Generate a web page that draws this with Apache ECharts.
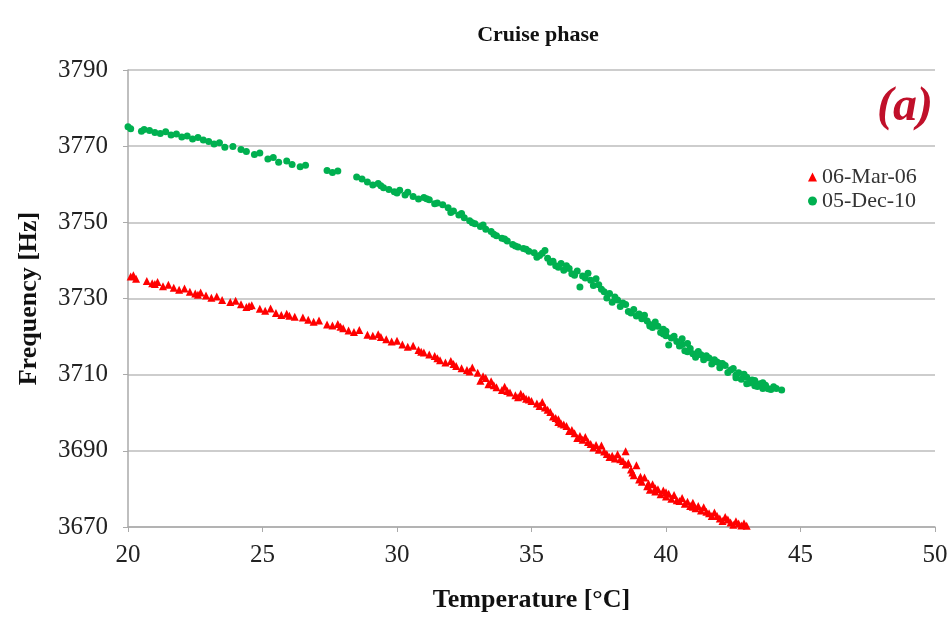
<!DOCTYPE html>
<html>
<head>
<meta charset="utf-8">
<script src="https://cdn.jsdelivr.net/npm/echarts@6/dist/echarts.min.js"></script>
<style>html,body{margin:0;padding:0;background:#fff}#c{width:951px;height:621px}</style>
</head>
<body>
<div id="c"></div>
<script>
const titleText = 'Cruise phase';
const xName = 'Temperature [°C]';
const yName = 'Frequency [Hz]';
const seriesNames = ['06-Mar-06', '05-Dec-10'];
const panelLabel = '(a)';

// [temperature °C, frequency Hz]
const mar06 = [[20.1,3735.8],[20.3,3735.2],[20.7,3734.6],[20.9,3734.0],[21.1,3734.3],[21.3,3733.2],[21.5,3733.6],[21.7,3732.8],[21.9,3732.3],[22.1,3732.6],[22.3,3731.8],[22.5,3731.3],[22.7,3731.6],[22.9,3730.8],[23.1,3730.2],[23.3,3730.5],[23.5,3729.6],[23.8,3729.1],[24.0,3729.4],[24.2,3728.5],[24.4,3727.8],[24.6,3728.2],[24.9,3727.3],[25.1,3726.8],[25.3,3727.4],[25.5,3726.2],[25.7,3725.7],[25.9,3726.0],[26.2,3725.2],[26.5,3725.0],[26.7,3724.4],[26.9,3723.9],[27.1,3724.2],[27.4,3723.2],[27.6,3722.9],[27.8,3723.3],[28.0,3722.2],[28.2,3721.6],[28.4,3721.2],[28.6,3721.7],[28.9,3720.5],[29.1,3720.2],[29.3,3720.6],[29.6,3719.3],[29.8,3718.7],[30.0,3718.9],[30.2,3717.9],[30.4,3717.3],[30.6,3717.6],[30.8,3716.5],[31.0,3715.8],[31.2,3715.3],[31.4,3714.9],[31.6,3713.8],[31.8,3713.2],[32.0,3713.6],[32.2,3712.3],[32.4,3711.7],[32.6,3711.2],[32.8,3711.9],[33.0,3710.5],[33.1,3708.4],[33.2,3709.6],[33.4,3707.5],[33.5,3708.3],[33.7,3706.7],[33.9,3706.0],[34.0,3706.8],[34.2,3705.3],[34.4,3704.6],[34.6,3705.0],[34.8,3703.7],[35.0,3703.1],[35.2,3702.4],[35.4,3702.8],[35.5,3701.4],[35.7,3700.2],[35.8,3699.0],[36.0,3698.3],[36.1,3697.2],[36.3,3696.5],[36.4,3695.2],[36.6,3694.6],[36.7,3693.4],[36.9,3692.9],[37.0,3693.6],[37.2,3691.8],[37.3,3690.9],[37.5,3690.3],[37.6,3691.4],[37.8,3689.2],[37.9,3688.4],[38.1,3688.0],[38.2,3689.1],[38.4,3687.3],[38.5,3689.9],[38.6,3686.8],[38.7,3685.1],[38.8,3683.6],[38.9,3686.2],[39.0,3682.5],[39.1,3681.9],[39.2,3683.0],[39.3,3680.7],[39.4,3679.8],[39.5,3681.2],[39.6,3679.3],[39.8,3678.6],[39.9,3679.6],[40.0,3678.0],[40.2,3677.4],[40.3,3678.4],[40.5,3676.8],[40.6,3677.6],[40.7,3676.1],[40.9,3675.5],[41.0,3676.4],[41.1,3674.9],[41.3,3674.3],[41.4,3675.2],[41.6,3673.6],[41.7,3672.9],[41.8,3673.8],[42.0,3672.2],[42.1,3671.6],[42.2,3672.6],[42.4,3671.2],[42.5,3670.6],[42.6,3671.5],[42.8,3670.4],[42.9,3671.0],[43.0,3670.3],
  [20.2,3736.1],[21.0,3733.8],[22.6,3731.0],[24.5,3728.0],[26.0,3725.5],[27.9,3722.6],[29.4,3719.9],[30.9,3716.0],[31.5,3714.3],[32.1,3712.8],[32.7,3710.8],[33.3,3709.1],[33.6,3707.2],[34.1,3705.7],[34.5,3704.1],[34.9,3703.5],[35.3,3701.8],[35.6,3700.8],[35.9,3698.6],[36.2,3696.9],[36.5,3695.5],[36.8,3693.9],[37.1,3692.3],[37.4,3691.5],[37.7,3689.8],[38.0,3688.7],[38.3,3687.8],[38.75,3684.3],[39.05,3683.2],[39.35,3681.4],[39.7,3679.9],[40.1,3678.7],[40.4,3677.0],[40.8,3676.6],[41.2,3675.5],[41.5,3674.0],[41.9,3672.9],[42.3,3672.0],[42.7,3670.9],[41.0,3675.3],[40.0,3679.1],[39.6,3680.2],[38.5,3686.4],[36.0,3697.6],[34.7,3704.3]];

const dec10 = [[20.0,3775.1],[20.1,3774.6],[20.5,3773.9],[20.6,3774.4],[20.8,3774.1],[21.0,3773.6],[21.2,3773.3],[21.4,3773.8],[21.6,3772.9],[21.8,3773.2],[22.0,3772.4],[22.2,3772.7],[22.4,3771.9],[22.6,3772.3],[22.8,3771.6],[23.0,3771.2],[23.2,3770.6],[23.4,3770.9],[23.6,3769.7],[23.9,3769.9],[24.2,3769.1],[24.4,3768.6],[24.7,3767.8],[24.9,3768.2],[25.2,3766.6],[25.4,3767.0],[25.6,3765.8],[25.9,3766.1],[26.1,3765.2],[26.4,3764.6],[26.6,3765.0],[27.4,3763.6],[27.6,3763.1],[27.8,3763.5],[28.5,3761.9],[28.7,3761.4],[28.9,3760.6],[29.1,3759.8],[29.3,3760.2],[29.5,3759.1],[29.7,3758.6],[29.9,3758.0],[30.1,3758.4],[30.3,3757.2],[30.6,3756.8],[30.8,3756.1],[31.0,3756.5],[31.2,3755.9],[31.5,3755.1],[31.7,3754.6],[31.9,3753.8],[32.1,3753.0],[32.3,3751.9],[32.5,3751.2],[32.7,3750.4],[32.9,3749.6],[33.1,3748.9],[33.3,3748.2],[33.5,3747.6],[33.7,3746.5],[33.9,3745.8],[34.1,3745.1],[34.3,3744.2],[34.5,3743.5],[34.7,3743.1],[34.9,3742.4],[35.1,3742.0],[35.3,3741.3],[35.5,3742.6],[35.6,3740.6],[35.8,3739.8],[35.9,3738.6],[36.1,3739.2],[36.2,3737.4],[36.4,3737.9],[36.5,3736.5],[36.7,3737.2],[36.8,3733.0],[36.9,3735.9],[37.1,3736.6],[37.2,3734.8],[37.4,3735.2],[37.5,3733.6],[37.6,3732.4],[37.8,3730.1],[37.9,3731.3],[38.0,3729.0],[38.2,3729.6],[38.3,3727.9],[38.5,3728.4],[38.6,3726.6],[38.8,3727.1],[38.9,3725.4],[39.1,3724.7],[39.2,3725.6],[39.4,3723.2],[39.5,3722.4],[39.6,3723.8],[39.8,3721.1],[39.9,3721.9],[40.0,3720.2],[40.1,3717.8],[40.2,3719.6],[40.4,3718.7],[40.5,3717.5],[40.6,3719.4],[40.7,3716.3],[40.9,3716.9],[41.0,3715.5],[41.1,3714.6],[41.3,3715.2],[41.4,3713.9],[41.6,3714.4],[41.7,3712.8],[41.9,3713.3],[42.0,3711.8],[42.2,3712.4],[42.3,3710.6],[42.4,3711.2],[42.6,3709.9],[42.7,3710.5],[42.8,3708.8],[43.0,3709.3],[43.1,3707.8],[43.2,3708.6],[43.3,3707.1],[43.5,3707.6],[43.6,3706.4],[43.7,3707.2],[43.9,3706.1],[44.0,3706.8],[44.3,3706.0],
  [29.4,3759.6],[30.0,3757.7],[30.4,3757.9],[31.1,3756.2],[31.4,3754.9],[32.0,3752.6],[32.4,3752.3],[32.8,3749.9],[33.2,3749.3],[33.6,3746.9],[34.0,3745.6],[34.4,3743.8],[34.8,3742.9],[35.2,3740.8],[35.4,3741.9],[35.7,3739.5],[36.0,3738.2],[36.3,3738.6],[36.6,3736.1],[37.0,3735.4],[37.3,3733.4],[37.7,3731.8],[38.1,3730.4],[38.4,3728.8],[38.7,3726.2],[39.0,3725.9],[39.3,3724.1],[39.7,3722.7],[40.0,3721.4],[40.3,3720.1],[40.6,3717.9],[40.8,3718.2],[41.2,3716.1],[41.5,3715.0],[41.8,3713.9],[42.1,3712.9],[42.5,3711.6],[42.9,3710.1],[43.0,3707.6],[43.3,3708.5],[43.4,3706.9],[43.6,3707.9],[43.8,3706.3],[44.1,3706.4],[42.6,3709.2],[42.0,3712.9],[41.4,3714.8],[40.8,3716.0],[39.9,3720.7],[39.4,3722.8]];

const FONT = '"Liberation Serif", "DejaVu Serif", serif';
const chart = echarts.init(document.getElementById('c'));
chart.setOption({
  backgroundColor: '#ffffff',
  animation: false,
  title: {
    text: titleText, left: 533, top: 19, textAlign: 'center',
    textStyle: {fontFamily: FONT, fontSize: 22, fontWeight: 'bold', color: '#111'}
  },
  legend: {
    orient: 'vertical', left: 803, top: 161, itemWidth: 9, itemHeight: 9, itemGap: 2,
    textStyle: {fontFamily: FONT, fontSize: 22, color: '#333'},
    data: [{name: seriesNames[0], icon: 'triangle'}, {name: seriesNames[1], icon: 'circle'}]
  },
  grid: {left: 128, right: 16, top: 70, bottom: 94},
  xAxis: {
    type: 'value', min: 20, max: 50, interval: 5,
    name: xName, nameLocation: 'middle', nameGap: 60,
    nameTextStyle: {fontFamily: FONT, fontSize: 26, fontWeight: 'bold', color: '#111'},
    axisLine: {show: true, lineStyle: {color: '#aaaaaa', width: 1.5}},
    axisTick: {show: true, length: 5, lineStyle: {color: '#aaaaaa'}},
    axisLabel: {fontFamily: FONT, fontSize: 25, color: '#222', margin: 16},
    splitLine: {show: false}
  },
  yAxis: {
    type: 'value', min: 3670, max: 3790, interval: 20,
    name: yName, nameLocation: 'middle', nameGap: 86,
    nameTextStyle: {fontFamily: FONT, fontSize: 26, fontWeight: 'bold', color: '#111'},
    axisLine: {show: true, lineStyle: {color: '#aaaaaa', width: 1.5}},
    axisTick: {show: true, length: 5, lineStyle: {color: '#aaaaaa'}},
    axisLabel: {fontFamily: FONT, fontSize: 25, color: '#222', margin: 20, formatter: v => String(v)},
    splitLine: {show: true, lineStyle: {color: '#bcbcbc', width: 1.5}}
  },
  graphic: [{
    type: 'text', right: 18, top: 84,
    style: {text: panelLabel, fontFamily: FONT, fontSize: 48, fontWeight: 'bold', fontStyle: 'italic', fill: '#c0102a'}
  }],
  series: [
    {name: seriesNames[0], type: 'scatter', symbol: 'triangle', symbolSize: 8, data: mar06,
     itemStyle: {color: '#ff0000', opacity: 1}},
    {name: seriesNames[1], type: 'scatter', symbol: 'circle', symbolSize: 7, data: dec10,
     itemStyle: {color: '#00b050', opacity: 1}}
  ]
});
</script>
</body>
</html>
